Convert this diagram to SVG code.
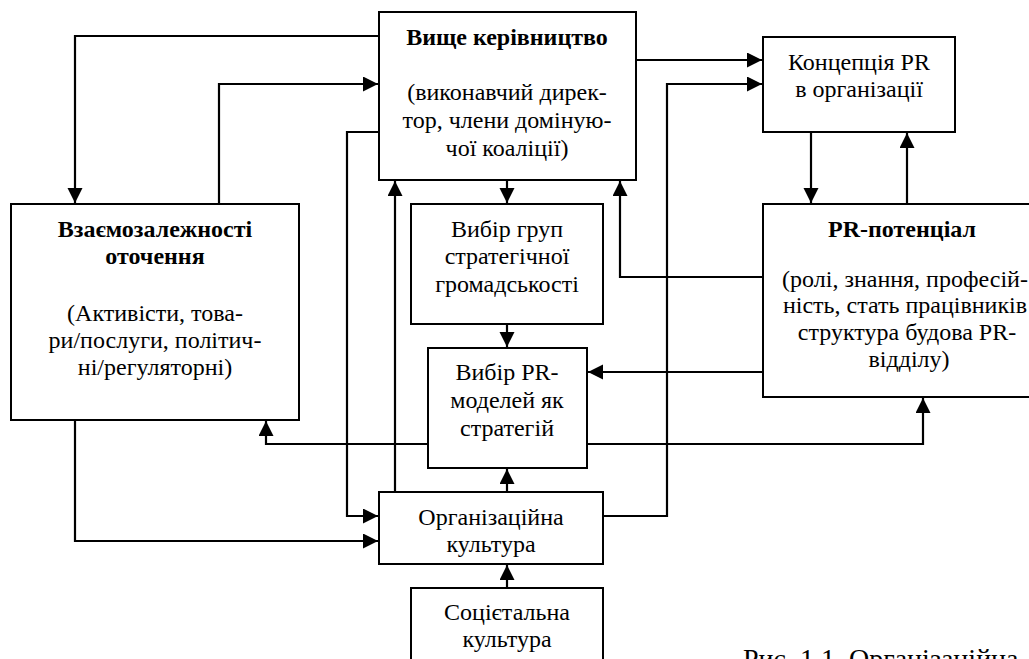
<svg xmlns="http://www.w3.org/2000/svg" width="1029" height="659" viewBox="0 0 1029 659">
<style>
.box{fill:#fff;stroke:#000;stroke-width:2}
.t{font-family:"Liberation Serif","Times New Roman",serif;font-size:24px;fill:#000;text-anchor:middle}
.b{font-weight:bold}
.c{fill:none;stroke:#000;stroke-width:2.2}
.cap{font-family:"Liberation Serif","Times New Roman",serif;font-size:28px;fill:#000}
</style>
<defs>
<marker id="ah" markerUnits="userSpaceOnUse" markerWidth="16" markerHeight="16" refX="15" refY="7.5" orient="auto">
<path d="M0,0 L15,7.5 L0,15 z" fill="#000"/>
</marker>
</defs>
<rect width="1029" height="659" fill="#fff"/>
<g id="connectors">
<path class="c" d="M379,36 H75 V203" marker-end="url(#ah)"/>
<path class="c" d="M219,204 V84 H378" marker-end="url(#ah)"/>
<path class="c" d="M379,132 H347 V516 H378" marker-end="url(#ah)"/>
<path class="c" d="M395,492 V181" marker-end="url(#ah)"/>
<path class="c" d="M507,180 V203" marker-end="url(#ah)"/>
<path class="c" d="M507,324 V347" marker-end="url(#ah)"/>
<path class="c" d="M763,277 H620 V181" marker-end="url(#ah)"/>
<path class="c" d="M763,372 H588" marker-end="url(#ah)"/>
<path class="c" d="M428,444 H266 V421" marker-end="url(#ah)"/>
<path class="c" d="M587,444 H923 V398" marker-end="url(#ah)"/>
<path class="c" d="M75,420 V541 H378" marker-end="url(#ah)"/>
<path class="c" d="M603,516 H667 V84 H762" marker-end="url(#ah)"/>
<path class="c" d="M636,60 H762" marker-end="url(#ah)"/>
<path class="c" d="M811,132 V203" marker-end="url(#ah)"/>
<path class="c" d="M907,204 V133" marker-end="url(#ah)"/>
<path class="c" d="M507,588 V565" marker-end="url(#ah)"/>
<path class="c" d="M507,492 V469" marker-end="url(#ah)"/>
</g>
<g id="top-management">
<rect class="box" x="379" y="12" width="257" height="168"/>
<text class="t b" x="507" y="45">Вище керівництво</text>
<text class="t" x="507" y="100">(виконавчий дирек-</text>
<text class="t" x="507" y="128">тор, члени доміную-</text>
<text class="t" x="507" y="156">чої коаліції)</text>
</g>
<g id="concept">
<rect class="box" x="763" y="37" width="192" height="95"/>
<text class="t" x="859" y="70">Концепція PR</text>
<text class="t" x="859" y="97">в організації</text>
</g>
<g id="environment">
<rect class="box" x="11" y="204" width="288" height="216"/>
<text class="t b" x="155" y="237">Взаємозалежності</text>
<text class="t b" x="155" y="264">оточення</text>
<text class="t" x="155" y="321">(Активісти, това-</text>
<text class="t" x="155" y="348">ри/послуги, політич-</text>
<text class="t" x="155" y="375">ні/регуляторні)</text>
</g>
<g id="publics">
<rect class="box" x="411" y="204" width="192" height="120"/>
<text class="t" x="507" y="237">Вибір груп</text>
<text class="t" x="507" y="264">стратегічної</text>
<text class="t" x="507" y="292">громадськості</text>
</g>
<g id="pr-potential">
<rect class="box" x="763" y="204" width="300" height="193"/>
<text class="t b" x="902" y="237">PR-потенціал</text>
<text class="t" x="905" y="287">(ролі, знання, професій-</text>
<text class="t" x="905" y="313">ність, стать працівників</text>
<text class="t" x="907" y="340">структура будова PR-</text>
<text class="t" x="909" y="367">відділу)</text>
</g>
<g id="pr-models">
<rect class="box" x="428" y="348" width="159" height="120"/>
<text class="t" x="507" y="380">Вибір PR-</text>
<text class="t" x="507" y="408">моделей як</text>
<text class="t" x="507" y="436">стратегій</text>
</g>
<g id="org-culture">
<rect class="box" x="379" y="492" width="224" height="72"/>
<text class="t" x="491" y="525">Організаційна</text>
<text class="t" x="491" y="552">культура</text>
</g>
<g id="societal-culture">
<rect class="box" x="411" y="588" width="192" height="90"/>
<text class="t" x="507" y="620">Соцієтальна</text>
<text class="t" x="507" y="647">культура</text>
</g>
<text class="cap" x="743" y="668">Рис. 1.1. Організаційна</text>
</svg>
